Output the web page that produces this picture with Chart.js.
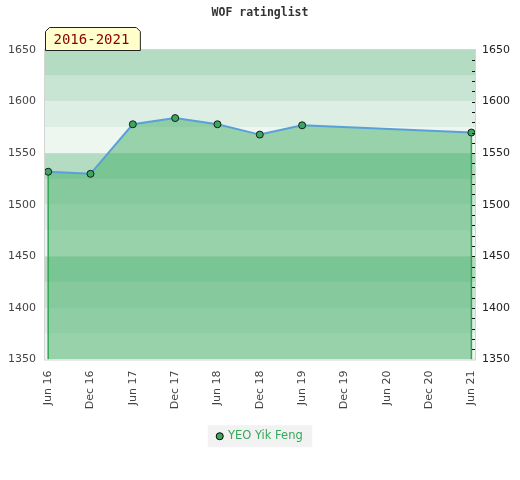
<!DOCTYPE html>
<html>
<head>
<meta charset="utf-8">
<title>WOF ratinglist</title>
<script src="https://cdn.jsdelivr.net/npm/chart.js@4.4.1/dist/chart.umd.min.js"></script>
<style>
    html, body { margin: 0; padding: 0; background: #ffffff; }
    #wrap { width: 520px; height: 480px; }
</style>
</head>
<body>
<div id="wrap"><canvas id="ratingChart" width="520" height="480"></canvas></div>
<script>
// ==========================================
// Rating list chart
// ==========================================

const chartTitle = 'WOF ratinglist';
const periodLabel = '2016-2021';
const playerName = 'YEO Yik Feng';
const xLabels = ['Jun 16', 'Dec 16', 'Jun 17', 'Dec 17', 'Jun 18', 'Dec 18',
                 'Jun 19', 'Dec 19', 'Jun 20', 'Dec 20', 'Jun 21'];
const ratings = [1532, 1530, 1578, 1584, 1578, 1568, 1577, null, null, null, 1570];
const yMin = 1350;
const yMax = 1650;

// background stripes, every 25 points, repeating per 100
const bandShades = ['#b3dcc2', '#c8e5d4', '#ddeee4', '#eef6f0'];
const pointGreen = '#3aa860';

const ratingPoints = ratings
    .map((v, i) => ({ x: i, y: v }))
    .filter(p => p.y !== null);
const firstPoint = ratingPoints[0];
const lastPoint = ratingPoints[ratingPoints.length - 1];

const backgroundPlugin = {
    id: 'background',
    beforeDraw(chart) {
        const { ctx, chartArea: a, scales: { y } } = chart;
        ctx.save();
        let i = 0;
        for (let v = yMax; v > yMin; v -= 25, i++) {
            const top = y.getPixelForValue(v);
            const bottom = y.getPixelForValue(v - 25);
            ctx.fillStyle = bandShades[i % 4];
            ctx.fillRect(a.left, top, a.right - a.left, bottom - top);
        }

        // grey box behind the legend item
        const box = chart.legend && chart.legend.legendHitBoxes[0];
        if (box) {
            const cy = box.top + box.height / 2;
            ctx.fillStyle = '#f2f2f2';
            ctx.fillRect(box.left - 9.5, cy - 11, box.width + 19, 22);
        }
        ctx.restore();
    },
    afterDraw(chart) {
        const { ctx, chartArea: a, scales: { y } } = chart;
        ctx.save();

        // plot frame
        ctx.strokeStyle = '#d4d4d4';
        ctx.lineWidth = 1;
        ctx.strokeRect(a.left - 0.5, a.top - 0.5, a.right - a.left + 1, a.bottom - a.top + 1);

        // small ticks on the right edge
        ctx.strokeStyle = '#111';
        ctx.beginPath();
        for (let v = yMin + 10; v < yMax; v += 10) {
            const py = Math.round(y.getPixelForValue(v)) + 0.5;
            ctx.moveTo(a.right - 3, py);
            ctx.lineTo(a.right, py);
        }
        ctx.stroke();

        // period tab on top of the plot
        ctx.font = '14px "DejaVu Sans Mono"';
        const w = ctx.measureText(periodLabel).width + 19;
        const x0 = a.left + 0.5, x1 = x0 + w, y0 = a.top - 23 + 0.5, y1 = a.top + 0.5, c = 4;
        ctx.beginPath();
        ctx.moveTo(x0, y1);
        ctx.lineTo(x0, y0 + c);
        ctx.lineTo(x0 + c, y0);
        ctx.lineTo(x1 - c, y0);
        ctx.lineTo(x1, y0 + c);
        ctx.lineTo(x1, y1);
        ctx.closePath();
        ctx.fillStyle = '#ffffcc';
        ctx.fill();
        ctx.strokeStyle = '#222';
        ctx.stroke();
        ctx.fillStyle = '#8b0000';
        ctx.textBaseline = 'middle';
        ctx.fillText(periodLabel, x0 + 8, (y0 + y1) / 2 + 1);
        ctx.restore();
    }
};

Chart.defaults.font.family = '"DejaVu Sans", sans-serif';

const edgeStyle = {
    borderColor: '#2ea652',
    borderWidth: 1.5,
    pointRadius: 0,
    fill: false,
    order: 1
};

new Chart(document.getElementById('ratingChart'), {
    type: 'line',
    data: {
        datasets: [{
            label: playerName,
            data: ratingPoints,
            borderColor: '#5b9fd8',
            backgroundColor: 'rgba(66, 174, 102, 0.5)',
            borderWidth: 2,
            fill: 'start',
            tension: 0,
            pointRadius: 3.5,
            pointBackgroundColor: pointGreen,
            pointBorderColor: '#1b1b1b',
            pointBorderWidth: 1,
            order: 0
        }, {
            label: 'left edge',
            data: [{ x: firstPoint.x, y: yMin }, firstPoint],
            ...edgeStyle
        }, {
            label: 'right edge',
            data: [{ x: lastPoint.x, y: yMin }, lastPoint],
            ...edgeStyle
        }]
    },
    options: {
        responsive: false,
        animation: false,
        devicePixelRatio: 1,
        layout: {
            padding: { left: 0, right: 0, top: 0, bottom: 28 }
        },
        plugins: {
            filler: { drawTime: 'beforeDatasetsDraw' },
            tooltip: { enabled: false },
            title: {
                display: true,
                text: chartTitle,
                color: '#333',
                font: { family: '"DejaVu Sans Mono", monospace', size: 11.5, weight: 'bold' },
                padding: { top: 6, bottom: 30.2 }
            },
            legend: {
                position: 'bottom',
                labels: {
                    usePointStyle: true,
                    boxWidth: 5,
                    boxHeight: 5,
                    padding: 10,
                    color: '#35a85a',
                    font: { size: 11.5 },
                    generateLabels(chart) {
                        const items = Chart.defaults.plugins.legend.labels.generateLabels(chart);
                        return items
                            .filter(item => item.datasetIndex === 0)
                            .map(item => Object.assign(item, {
                                fillStyle: pointGreen,
                                strokeStyle: '#000',
                                lineWidth: 1,
                                pointStyle: 'circle'
                            }));
                    }
                }
            }
        },
        scales: {
            x: {
                type: 'linear',
                min: -0.075,
                max: 10.085,
                grid: { display: false, drawTicks: false },
                border: { display: false },
                afterBuildTicks: scale => {
                    scale.ticks = xLabels.map((_, i) => ({ value: i }));
                },
                afterFit: scale => { scale.height = 61; },
                ticks: {
                    autoSkip: false,
                    minRotation: 90,
                    maxRotation: 90,
                    padding: 11,
                    color: '#444',
                    font: { size: 11 },
                    callback: v => xLabels[v]
                }
            },
            y: {
                position: 'left',
                min: yMin,
                max: yMax,
                grid: { display: false, drawTicks: false },
                border: { display: false },
                afterFit: scale => { scale.width = 45; },
                ticks: {
                    stepSize: 50,
                    padding: 9,
                    color: '#444',
                    font: { size: 11 },
                    callback: v => String(v)
                }
            },
            y2: {
                position: 'right',
                min: yMin,
                max: yMax,
                grid: { display: false, drawTicks: false },
                border: { display: false },
                afterFit: scale => { scale.width = 45; },
                ticks: {
                    stepSize: 50,
                    padding: 7,
                    color: '#222',
                    font: { size: 11 },
                    callback: v => String(v)
                }
            }
        }
    },
    plugins: [backgroundPlugin]
});
</script>
</body>
</html>
